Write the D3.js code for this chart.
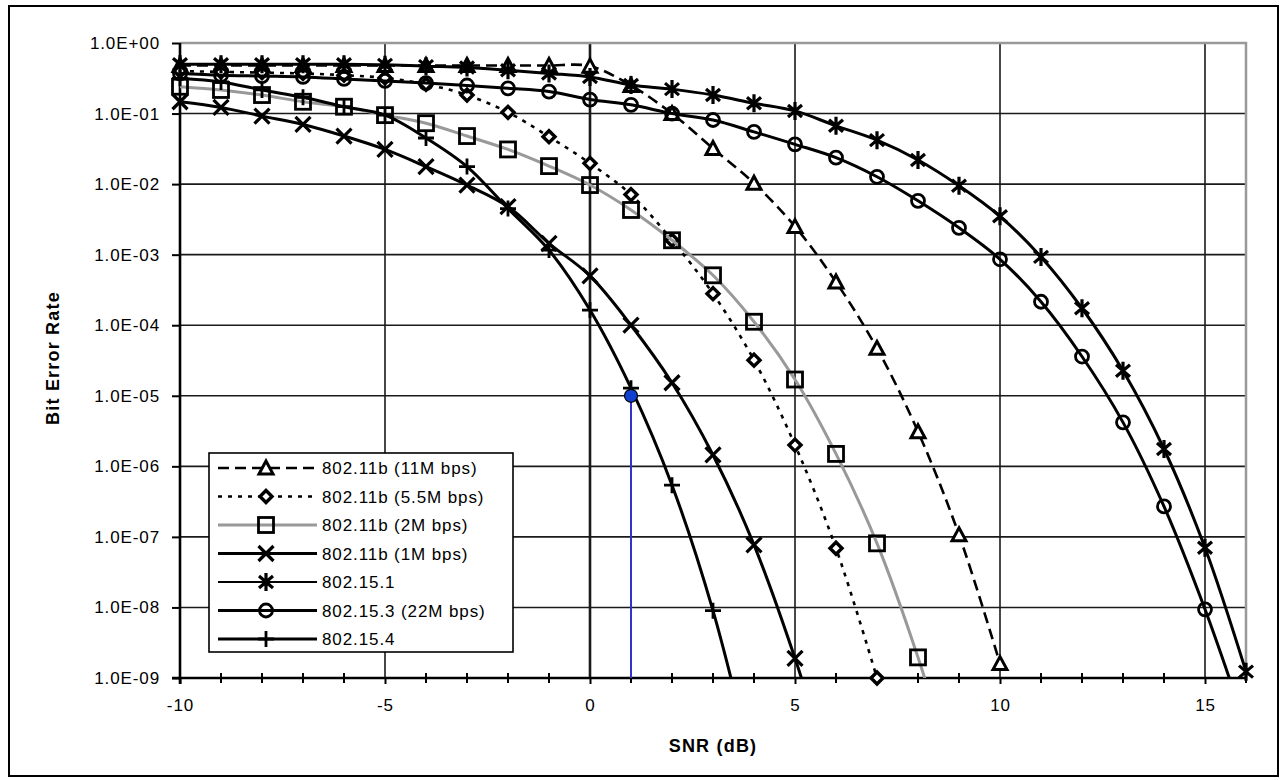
<!DOCTYPE html>
<html>
<head>
<meta charset="utf-8">
<script src="https://cdn.jsdelivr.net/npm/d3@7/dist/d3.min.js"></script>
<style>
  body { margin: 0; background: #fff; }
  svg text { font-family: "Liberation Sans", Arial, sans-serif; fill: #000; }
</style>
</head>
<body>
<svg id="chart" width="1281" height="780"></svg>
<script>
// SNR values (dB) for each series start at -10
var snr = [-10, -9, -8, -7, -6, -5, -4, -3, -2, -1, 0, 1, 2, 3, 4, 5, 6, 7, 8, 9, 10, 11, 12, 13, 14, 15, 16];

var ber11M = [0.48, 0.48, 0.48, 0.48, 0.48, 0.48, 0.48, 0.48, 0.48, 0.48, 0.47,
              0.25, 0.1, 0.032, 0.0103, 0.0025, 4.1e-4, 4.7e-5, 3.1e-6, 1.07e-7, 1.6e-9];
var ber55M = [0.40, 0.39, 0.38, 0.37, 0.35, 0.32, 0.26, 0.183, 0.104, 0.047, 0.0197,
              0.0071, 0.0016, 2.8e-4, 3.2e-5, 2.0e-6, 6.9e-8, 1.0e-9];
var ber2M = [0.24, 0.216, 0.183, 0.147, 0.125, 0.095, 0.073, 0.048, 0.031, 0.018, 0.0097,
             0.0043, 0.0016, 5.1e-4, 1.12e-4, 1.7e-5, 1.5e-6, 8.1e-8, 1.96e-9, 2.5e-11];
var ber1M = [0.147, 0.122, 0.092, 0.070, 0.048, 0.031, 0.0177, 0.0097, 0.0048, 0.00145, 5.0e-4,
             1.0e-4, 1.53e-5, 1.45e-6, 7.7e-8, 1.9e-9, 2.5e-11];
var ber151 = [0.5, 0.5, 0.5, 0.5, 0.5, 0.49, 0.47, 0.45, 0.41, 0.37, 0.33,
              0.254, 0.222, 0.183, 0.14, 0.109, 0.067, 0.042, 0.022, 0.0095, 0.0035,
              9.3e-4, 1.74e-4, 2.26e-5, 1.76e-6, 7.0e-8, 1.23e-9];
var ber153 = [0.37, 0.35, 0.34, 0.33, 0.31, 0.29, 0.27, 0.25, 0.228, 0.205, 0.158,
              0.133, 0.1, 0.081, 0.055, 0.0366, 0.0237, 0.0127, 0.0058, 0.0024, 8.6e-4,
              2.15e-4, 3.6e-5, 4.2e-6, 2.7e-7, 9.4e-9, 2e-10];
var ber154 = [0.316, 0.28, 0.216, 0.17, 0.125, 0.095, 0.045, 0.0177, 0.0045, 0.00116, 1.64e-4,
              1.28e-5, 5.4e-7, 9.0e-9, 4.5e-11];

var seriesNames = ["802.11b (11M bps)", "802.11b (5.5M bps)", "802.11b (2M bps)", "802.11b (1M bps)",
                   "802.15.1", "802.15.3 (22M bps)", "802.15.4"];

var yTickValues = [1, 1e-1, 1e-2, 1e-3, 1e-4, 1e-5, 1e-6, 1e-7, 1e-8, 1e-9];
var yTickLabels = ["1.0E+00", "1.0E-01", "1.0E-02", "1.0E-03", "1.0E-04", "1.0E-05",
                   "1.0E-06", "1.0E-07", "1.0E-08", "1.0E-09"];
var xTickValues = [-10, -5, 0, 5, 10, 15];
var xMinorValues = [-9, -8, -7, -6, -4, -3, -2, -1, 1, 2, 3, 4, 6, 7, 8, 9, 11, 12, 13, 14, 16];

// highlighted point (blue) with drop line
var markSnr = [1];
var markBer = [1e-5];

var plotLeft = 180, plotRight = 1246, plotTop = 43, plotBottom = 678;

var svg = d3.select("#chart");

// outer frame
svg.append("rect")
    .attr("x", 9).attr("y", 6)
    .attr("width", 1269).attr("height", 770)
    .attr("fill", "#fff")
    .attr("stroke", "#000")
    .attr("stroke-width", 2);

var xScale = d3.scaleLinear()
    .domain([-10, 16])
    .range([plotLeft, plotRight]);

var yScale = d3.scaleLog()
    .domain([1, 1e-9])
    .range([plotTop, plotBottom]);

// styles per series
var styles = [
  { data: ber11M, marker: "triangle", color: "#000", width: 2.6, legendWidth: 2.6, dash: "11,6" },
  { data: ber55M, marker: "diamond",  color: "#000", width: 2.6, legendWidth: 2.6, dash: "4,6" },
  { data: ber2M,  marker: "square",   color: "#999", width: 3,   legendWidth: 3,   dash: null },
  { data: ber1M,  marker: "x",        color: "#000", width: 3,   legendWidth: 3,   dash: null },
  { data: ber151, marker: "star",     color: "#000", width: 3,   legendWidth: 2,   dash: null },
  { data: ber153, marker: "circle",   color: "#000", width: 3,   legendWidth: 3,   dash: null },
  { data: ber154, marker: "plus",     color: "#000", width: 3,   legendWidth: 3,   dash: null }
];

var series = styles.map(function(s, i) {
  return {
    name: seriesNames[i],
    marker: s.marker, color: s.color, width: s.width, legendWidth: s.legendWidth, dash: s.dash,
    points: s.data.map(function(v, j) { return { snr: snr[j], ber: v }; })
  };
});

// horizontal grid lines
svg.append("g")
    .selectAll("line")
    .data(yTickValues.slice(1, 9))
    .enter().append("line")
    .attr("x1", plotLeft).attr("x2", plotRight)
    .attr("y1", function(d) { return yScale(d); })
    .attr("y2", function(d) { return yScale(d); })
    .attr("stroke", "#1a1a1a")
    .attr("stroke-width", 1.6);

// vertical grid lines
svg.append("g")
    .selectAll("line")
    .data(xTickValues.slice(1))
    .enter().append("line")
    .attr("x1", function(d) { return xScale(d); })
    .attr("x2", function(d) { return xScale(d); })
    .attr("y1", plotTop).attr("y2", plotBottom)
    .attr("stroke", "#1a1a1a")
    .attr("stroke-width", function(d) { return d === 0 ? 2.6 : 1.6; });

// gray frame top and right
svg.append("path")
    .attr("d", "M" + plotLeft + "," + plotTop + "H" + plotRight + "V" + plotBottom)
    .attr("fill", "none")
    .attr("stroke", "#999")
    .attr("stroke-width", 2.5);

// y axis
var yAxis = d3.axisLeft(yScale)
    .tickValues(yTickValues)
    .tickFormat(function(d, i) { return yTickLabels[i]; })
    .tickSizeInner(8)
    .tickSizeOuter(0)
    .tickPadding(12);

var yG = svg.append("g")
    .attr("transform", "translate(" + plotLeft + ",0)")
    .call(yAxis);
yG.select(".domain").remove();
yG.selectAll("line").attr("stroke", "#000").attr("stroke-width", 2);
yG.selectAll("text")
    .attr("font-size", 17)
    .attr("letter-spacing", 0.9)
    .attr("font-family", "Liberation Sans, Arial, sans-serif")
    .attr("fill", "#000");

// x axis
var xAxis = d3.axisBottom(xScale)
    .tickValues(xTickValues)
    .tickFormat(d3.format("d"))
    .tickSizeInner(6)
    .tickSizeOuter(0)
    .tickPadding(15);

var xG = svg.append("g")
    .attr("transform", "translate(0," + plotBottom + ")")
    .call(xAxis);
xG.select(".domain").remove();
xG.selectAll("line").attr("stroke", "#000").attr("stroke-width", 2);
xG.selectAll("text")
    .attr("font-size", 17)
    .attr("letter-spacing", 0.9)
    .attr("font-family", "Liberation Sans, Arial, sans-serif")
    .attr("fill", "#000")
    .text(function(d) { return d < 0 ? "-" + Math.abs(d) : d; });

// minor ticks crossing x axis
svg.append("g")
    .selectAll("line")
    .data(xMinorValues)
    .enter().append("line")
    .attr("x1", function(d) { return xScale(d); })
    .attr("x2", function(d) { return xScale(d); })
    .attr("y1", plotBottom - 5).attr("y2", plotBottom + 5)
    .attr("stroke", "#000")
    .attr("stroke-width", 2);

// axis lines
svg.append("line")
    .attr("x1", plotLeft).attr("x2", plotLeft)
    .attr("y1", plotTop).attr("y2", plotBottom + 6)
    .attr("stroke", "#000").attr("stroke-width", 2.6);
svg.append("line")
    .attr("x1", plotLeft - 8).attr("x2", plotRight)
    .attr("y1", plotBottom).attr("y2", plotBottom)
    .attr("stroke", "#000").attr("stroke-width", 2.6);

// clip for the lines
svg.append("clipPath").attr("id", "plotClip")
    .append("rect")
    .attr("x", plotLeft).attr("y", plotTop - 10)
    .attr("width", plotRight - plotLeft + 2)
    .attr("height", plotBottom - plotTop + 10);

var lineGen = d3.line()
    .x(function(d) { return xScale(d.snr); })
    .y(function(d) { return yScale(d.ber); })
    .curve(d3.curveCatmullRom.alpha(0.5));

function drawMarker(g, type, cx, cy) {
  var m = g.append("g").attr("transform", "translate(" + cx + "," + cy + ")");
  if (type === "triangle") {
    m.append("path").attr("d", "M0,-7L7,6L-7,6Z")
      .attr("fill", "#fff").attr("stroke", "#000").attr("stroke-width", 3)
      .attr("stroke-linejoin", "miter");
  } else if (type === "diamond") {
    m.append("path").attr("d", "M0,-6L6,0L0,6L-6,0Z")
      .attr("fill", "#fff").attr("stroke", "#000").attr("stroke-width", 3.4);
  } else if (type === "square") {
    m.append("rect").attr("x", -7.5).attr("y", -7.5).attr("width", 15).attr("height", 15)
      .attr("fill", "none").attr("stroke", "#000").attr("stroke-width", 2.8);
  } else if (type === "x") {
    m.append("path").attr("d", "M-7.5,-7.5L7.5,7.5M-7.5,7.5L7.5,-7.5")
      .attr("stroke", "#000").attr("stroke-width", 3.2);
  } else if (type === "star") {
    m.append("path").attr("d", "M-7,-6L7,6M-7,6L7,-6M0,-9V9")
      .attr("stroke", "#000").attr("stroke-width", 3.2);
  } else if (type === "circle") {
    m.append("circle").attr("r", 6.5)
      .attr("fill", "none").attr("stroke", "#000").attr("stroke-width", 2.8);
  } else if (type === "plus") {
    m.append("path").attr("d", "M-8,0H8M0,-8V8")
      .attr("stroke", "#000").attr("stroke-width", 2.8);
  }
}

series.forEach(function(s) {
  var g = svg.append("g");
  g.append("path")
      .datum(s.points)
      .attr("clip-path", "url(#plotClip)")
      .attr("d", lineGen)
      .attr("fill", "none")
      .attr("stroke", s.color)
      .attr("stroke-width", s.width)
      .attr("stroke-dasharray", s.dash);
  s.points.filter(function(d) { return d.ber >= 9.9e-10; })
      .forEach(function(d) {
        drawMarker(g, s.marker, xScale(d.snr), yScale(d.ber));
      });
});

// blue highlight
var markG = svg.append("g");
markSnr.forEach(function(v, i) {
  markG.append("line")
      .attr("x1", xScale(v)).attr("x2", xScale(v))
      .attr("y1", yScale(markBer[i])).attr("y2", plotBottom)
      .attr("stroke", "#3333cc").attr("stroke-width", 2);
  markG.append("circle")
      .attr("cx", xScale(v)).attr("cy", yScale(markBer[i]))
      .attr("r", 6.5)
      .attr("fill", "#1040d0")
      .attr("stroke", "#000")
      .attr("stroke-width", 1.2);
});

// legend
var legend = svg.append("g");
legend.append("rect")
    .attr("x", 209).attr("y", 453)
    .attr("width", 304).attr("height", 199)
    .attr("fill", "#fff")
    .attr("stroke", "#000")
    .attr("stroke-width", 1.6);

series.forEach(function(s, i) {
  var ly = 468 + i * 28.5;
  legend.append("line")
      .attr("x1", 218).attr("x2", 317)
      .attr("y1", ly).attr("y2", ly)
      .attr("stroke", s.color)
      .attr("stroke-width", s.legendWidth)
      .attr("stroke-dasharray", s.dash);
  drawMarker(legend, s.marker, 266, ly);
  legend.append("text")
      .attr("x", 322).attr("y", ly + 6)
      .attr("font-size", 17)
      .attr("letter-spacing", 0.9)
      .text(s.name);
});

// axis titles
svg.append("text")
    .attr("transform", "translate(59,358) rotate(-90)")
    .attr("text-anchor", "middle")
    .attr("font-size", 18)
    .attr("font-weight", "bold")
    .attr("letter-spacing", 1.2)
    .text("Bit Error Rate");

svg.append("text")
    .attr("x", (plotLeft + plotRight) / 2)
    .attr("y", 752)
    .attr("text-anchor", "middle")
    .attr("font-size", 18)
    .attr("font-weight", "bold")
    .attr("letter-spacing", 1.2)
    .text("SNR (dB)");
</script>
</body>
</html>
